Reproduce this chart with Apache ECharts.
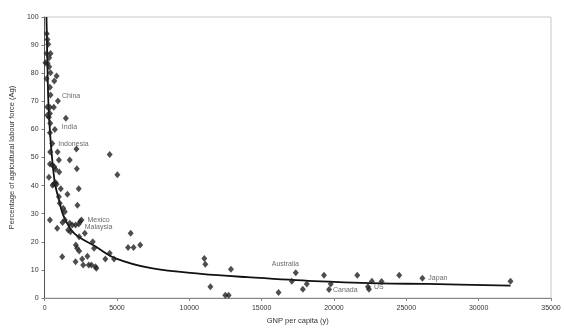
<!DOCTYPE html>
<html>
<head>
<meta charset="utf-8">
<script src="https://cdn.jsdelivr.net/npm/echarts@6/dist/echarts.min.js"></script>
<style>html,body{margin:0;padding:0;background:#fff}#c{width:566px;height:330px}</style>
</head>
<body>
<div id="c"></div>
<script>
// GNP per capita (y) of each country
const gnp = [150,200,250,140,410,320,60,200,320,410,830,140,670,370,410,920,190,370,640,190,370,300,1470,390,710,370,530,390,900,2200,4500,
  1740,990,370,530,670,760,1010,2230,5030,300,550,640,760,830,1120,2360,1580,990,1050,2270,1290,1400,370,1400,1240,1740,1910,2550,2460,2360,2140,
  870,1630,1790,2780,2390,3330,2160,2250,3420,2390,4500,1220,2600,4200,4800,2140,2670,3050,3240,3510,3580,2960,5770,6150,5950,6610,
  11040,11110,12880,11460,12490,12720,16170,17090,17360,17850,18120,19310,19780,19660,21610,22350,22420,22620,23290,24510,26110,32200];
// Percentage of agricultural labour force (Ag)
const ag = [94,92,90.3,87,87,85.5,83.7,83.5,82.3,80.2,79,78,77.2,75,72.2,70.1,68,67.9,67.9,65,65.7,64.3,64,62.2,60,58.8,55,52,52,53,51.1,
  49.1,49.1,47.7,47.3,46.7,45.8,44.8,46,43.9,43,40.1,40.6,41,40.5,38.9,38.9,36.9,36,33.7,33,31.9,30.7,27.8,27.8,26.9,26.6,26,27.8,27.2,26.3,26,
  24.8,24.2,23.6,23,21.8,20,18.9,17.7,17.7,16.7,15.9,14.7,13.9,13.9,13.9,12.9,11.7,11.7,11.7,11.1,10.6,14.9,18,18,23,18.9,
  14.1,12,10.2,4,1,1,2,6,9,3.1,5,8.1,5,3,8.1,4,3.1,6,5.9,8.1,7,6];
// labelled countries
const labelNames = ['China','India','Indonesia','Mexico','Malaysia','Australia','Canada','US','Japan'];
const labelGnp = [920,710,530,2550,2360,17360,19660,22350,26110];
const labelAg = [70.1,60,55,27.8,26.3,9,3,4,7];
// fitted curve
const curveGnp = [130,170,210,260,350,480,710,990,1330,2050,3530,4910,7370,10820,14030,18620,23220,26440,32200];
const curveAg = [100,90,80,70,61,52,41,35,29,23,18.3,14.1,10.6,8.6,7.4,6.0,5.2,5.0,4.4];

// label placement (style)
const labelOffsets = {China:[4,-5],India:[7,-2],Indonesia:[6,1],Mexico:[6,0],Malaysia:[6,3],Australia:[-24,-9],Canada:[4,0],US:[6,0],Japan:[6,0]};

const pts = gnp.map((x,i)=>[x, ag[i]]);
const curve = curveGnp.map((x,i)=>[x, curveAg[i]]);
const labelled = labelNames.map((n,i)=>({
  value:[labelGnp[i], labelAg[i]],
  label:{show:true, formatter:n, position:'inside', align:'left', verticalAlign:'middle', offset:labelOffsets[n]}
}));

const font = 'Liberation Sans, Arial, sans-serif';
const chart = echarts.init(document.getElementById('c'), null, {renderer:'canvas'});
chart.setOption({
  animation:false,
  backgroundColor:'#fff',
  grid:{left:43, right:15, top:17, bottom:32, show:true, borderColor:'#c8c8c8', borderWidth:1},
  xAxis:{
    type:'value', min:0, max:35000, interval:5000,
    name:'GNP per capita (y)', nameLocation:'middle', nameGap:19,
    nameTextStyle:{fontFamily:font, fontSize:7.5, color:'#333'},
    axisLine:{lineStyle:{color:'#888', width:1}},
    axisTick:{show:true, length:3, lineStyle:{color:'#888'}},
    axisLabel:{fontFamily:font, fontSize:7, color:'#333', margin:7, formatter:v=>String(v)},
    splitLine:{show:false}
  },
  yAxis:{
    type:'value', min:0, max:100, interval:10,
    name:'Percentage of agricultural labour force (Ag)', nameLocation:'middle', nameGap:15,
    nameTextStyle:{fontFamily:font, fontSize:7.5, color:'#333'},
    axisLine:{show:true, lineStyle:{color:'#555', width:1}},
    axisTick:{show:true, length:3, lineStyle:{color:'#777'}},
    axisLabel:{fontFamily:font, fontSize:7, color:'#333', margin:6},
    splitLine:{show:false}
  },
  series:[
    {type:'line', data:curve, smooth:0.35, showSymbol:false, symbol:'none',
     lineStyle:{color:'#111', width:1.8}, z:2},
    {type:'scatter', data:pts, symbol:'diamond', symbolSize:[6,7],
     itemStyle:{color:'#222'}, z:3},
    {type:'scatter', data:labelled, symbol:'diamond', symbolSize:[6,7],
     itemStyle:{color:'rgba(0,0,0,0)'},
     label:{fontFamily:font, fontSize:7, color:'#444'}, z:4}
  ]
});
</script>
</body>
</html>
